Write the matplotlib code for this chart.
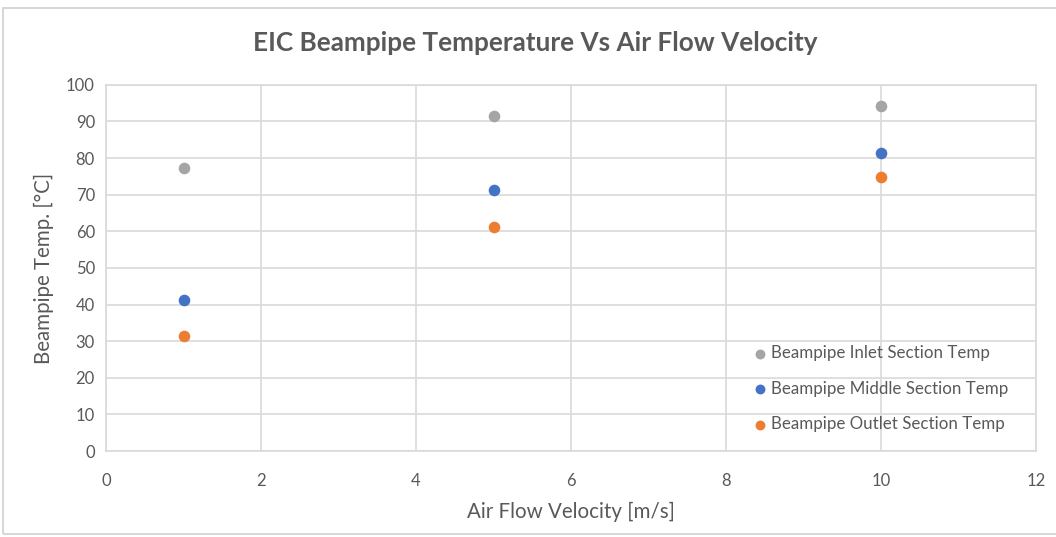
import matplotlib.pyplot as plt
from matplotlib.patches import Rectangle

velocity = [1, 5, 10]
inlet_temp = [77.2, 91.4, 94.2]
middle_temp = [41.2, 71.2, 81.4]
outlet_temp = [31.4, 61.1, 74.8]

series = [
    ("Beampipe Inlet Section Temp", inlet_temp, "#a5a5a5"),
    ("Beampipe Middle Section Temp", middle_temp, "#4472c4"),
    ("Beampipe Outlet Section Temp", outlet_temp, "#ed7d31"),
]

plt.rcParams['font.family'] = ['Lato', 'DejaVu Sans']
text_color = "#595959"
grid_color = "#d9d9d9"

fig = plt.figure(figsize=(10.56, 5.37), dpi=100)
ax = fig.add_axes([0.1004, 0.160, 0.8807, 0.682])

for label, temps, color in series:
    ax.scatter(velocity, temps, s=70, color=color, label=label, zorder=3,
               linewidths=0)

ax.set_xlim(0, 12)
ax.set_ylim(0, 100)
ax.set_xticks(range(0, 13, 2))
ax.set_yticks(range(0, 101, 10))
ax.grid(True, color=grid_color, linewidth=1.2)
ax.set_axisbelow(True)
for sp in ax.spines.values():
    sp.set_color(grid_color)
    sp.set_linewidth(1.2)
ax.tick_params(length=0, colors=text_color, labelsize=12)
ax.tick_params(axis="y", pad=8)
ax.tick_params(axis="x", pad=16)

ax.set_xlabel("Air Flow Velocity [m/s]", fontsize=14.8, color=text_color, labelpad=9)
ax.set_ylabel("Beampipe Temp. [°C]", fontsize=14.8, color=text_color, labelpad=9)
fig.text(0.507, 0.920, "EIC Beampipe Temperature Vs Air Flow Velocity",
         ha="center", va="center", fontsize=18.8, fontweight="bold", color=text_color)

leg = ax.legend(loc="lower left", bbox_to_anchor=(0.685, 0.028), frameon=False,
                fontsize=12.2, labelspacing=1.15, handletextpad=0.15,
                handlelength=1.0, borderpad=0, markerscale=0.85)
for t in leg.get_texts():
    t.set_color(text_color)

fig.add_artist(Rectangle((0.003, 0.006), 1.1, 0.979, transform=fig.transFigure,
                         fill=False, edgecolor="#d0d0d0", linewidth=1.2))

fig.savefig("out.png", dpi=100)
